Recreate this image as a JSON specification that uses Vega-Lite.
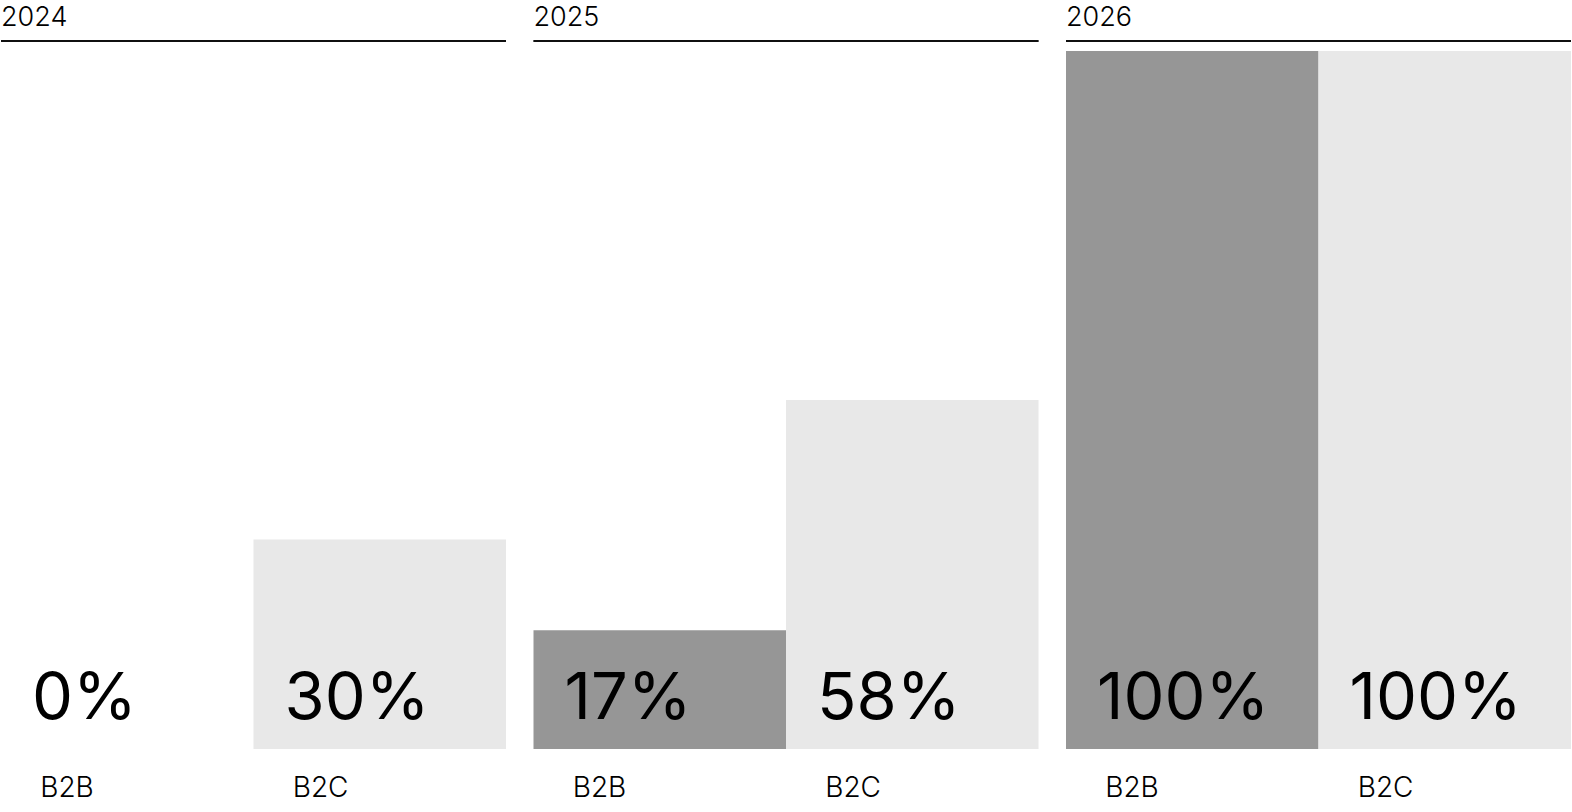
{
  "$schema": "https://vega.github.io/schema/vega-lite/v6.json",
  "padding": {"top": 4, "left": 0, "right": 0, "bottom": 0},
  "background": "white",
  "data": {
    "values": [
      {"year": "2024", "segment": "B2B", "value": 0, "label": "0%"},
      {"year": "2024", "segment": "B2C", "value": 30, "label": "30%"},
      {"year": "2025", "segment": "B2B", "value": 17, "label": "17%"},
      {"year": "2025", "segment": "B2C", "value": 50, "label": "58%"},
      {"year": "2026", "segment": "B2B", "value": 100, "label": "100%"},
      {"year": "2026", "segment": "B2C", "value": 100, "label": "100%"}
    ]
  },
  "facet": {
    "column": {
      "field": "year",
      "type": "ordinal",
      "title": null,
      "header": {
        "labelOrient": "top",
        "labelAnchor": "start",
        "labelAlign": "left",
        "labelFont": "Inter",
        "labelFontSize": 27,
        "labelFontWeight": 300,
        "labelColor": "black",
        "labelPadding": 8
      }
    }
  },
  "spacing": 25.5,
  "spec": {
    "width": 505,
    "height": 708,
    "layer": [
      {
        "mark": {"type": "bar"},
        "encoding": {
          "x": {
            "field": "segment",
            "type": "nominal",
            "scale": {"paddingInner": 0, "paddingOuter": 0},
            "axis": {
              "title": null,
              "domain": false,
              "ticks": false,
              "labelAngle": 0,
              "labelAlign": "left",
              "labelBaseline": "top",
              "labelOffset": -87,
              "labelPadding": 25,
              "labelFont": "Inter",
              "labelFontSize": 28,
              "labelFontWeight": 300,
              "labelColor": "black"
            }
          },
          "y": {
            "field": "value",
            "type": "quantitative",
            "scale": {"domain": [0, 101.43], "nice": false},
            "axis": null
          },
          "color": {
            "field": "segment",
            "type": "nominal",
            "scale": {"domain": ["B2B", "B2C"], "range": ["#969696", "#e8e8e8"]},
            "legend": null
          }
        }
      },
      {
        "mark": {
          "type": "text",
          "align": "left",
          "baseline": "alphabetic",
          "dx": 31,
          "dy": -30,
          "font": "Inter",
          "fontSize": 65,
          "fontWeight": 400,
          "color": "black"
        },
        "encoding": {
          "x": {"field": "segment", "type": "nominal", "bandPosition": 0},
          "y": {"datum": 0},
          "text": {"field": "label"}
        }
      },
      {
        "mark": {"type": "rule", "color": "black", "strokeWidth": 1.5},
        "encoding": {
          "y": {"datum": 101.43}
        }
      }
    ]
  },
  "config": {
    "view": {"stroke": null}
  }
}
